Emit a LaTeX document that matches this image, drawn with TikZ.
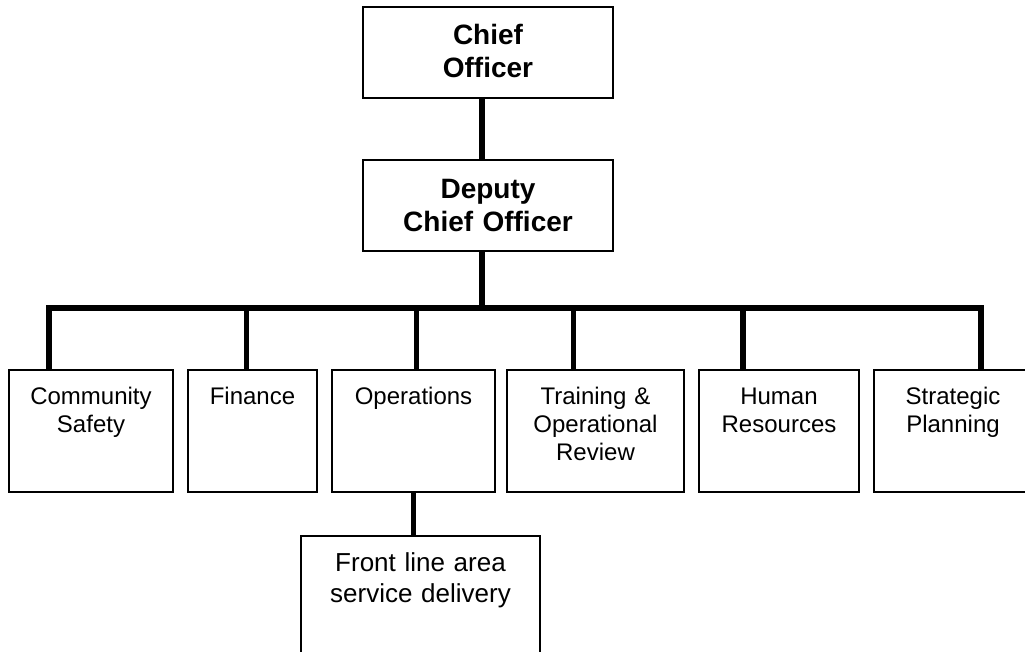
\documentclass[tikz,border=0pt]{standalone}
\usepackage{fontspec}
\setmainfont{Liberation Sans}
\usetikzlibrary{positioning}

\begin{document}
\begin{tikzpicture}[
    head/.style={draw, line width=2.2pt, outer sep=0pt, inner sep=0pt, align=center, text width=250pt, font=\fontsize{28}{33}\selectfont\bfseries},
    unit/.style={draw, line width=1.8pt, outer sep=0pt, inner sep=0pt, align=center, text height=34pt, text depth=88pt, font=\fontsize{24}{28}\selectfont},
    link/.style={line width=5.5pt}]

    \useasboundingbox (0,0) rectangle (1025pt,-652pt);

    % top of the tree
    \node[head, anchor=north, text height=38pt, text depth=53pt] (chief) at (488pt,-7pt) {Chief\\Officer};
    \node[head, below=62pt of chief, text height=39pt, text depth=52pt] (deputy) {Deputy\\Chief Officer};

    % departments
    \node[unit, anchor=north west, text width=164pt] (safety) at (9pt,-370pt) {Community\\Safety};
    \node[unit, right=15pt of safety, text width=129pt] (finance) {Finance};
    \node[unit, right=15pt of finance, text width=163pt] (ops) {Operations};
    \node[unit, right=12pt of ops, text width=177pt] (training) {Training \&\\Operational\\Review};
    \node[unit, right=15pt of training, text width=160pt] (hr) {Human\\Resources};
    \node[unit, right=15pt of hr, text width=158pt] (strategic) {Strategic\\Planning};

    \node[unit, below=44pt of ops, xshift=7pt, text width=239pt, text height=35pt, text depth=92pt, font=\fontsize{26}{31}\selectfont] (front) {Front line area\\service delivery};

    % connectors
    \coordinate (trunk) at (482pt,-308pt);
    \coordinate (bar-w) at (49pt,-308pt);
    \coordinate (bar-e) at (981pt,-308pt);

    \draw[link] (trunk |- chief.south) -- (trunk |- deputy.north);
    \draw[link] (trunk |- deputy.south) -- (trunk);
    \draw[link] (bar-w |- safety.north) -- (bar-w) -- (bar-e) -- (bar-e |- strategic.north);
    \foreach \n/\dx in {finance/-6, ops/3, training/-22, hr/-36}
        \draw[link] ([xshift=\dx pt]\n.north) -- ([xshift=\dx pt]\n.north |- bar-w);
    \draw[link] (ops.south) -- (ops.south |- front.north);
\end{tikzpicture}
\end{document}
